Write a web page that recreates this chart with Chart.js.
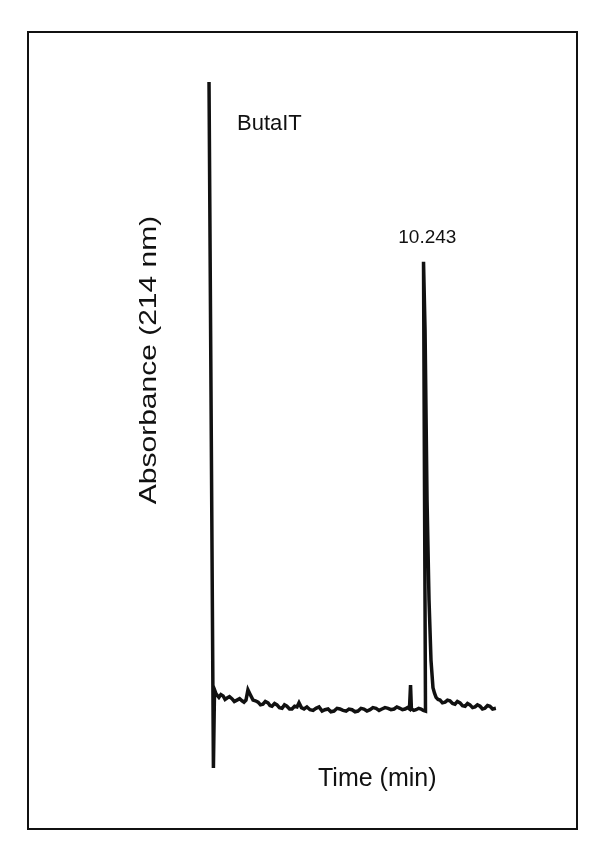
<!DOCTYPE html>
<html>
<head>
<meta charset="utf-8">
<script src="https://cdn.jsdelivr.net/npm/chart.js@4/dist/chart.umd.min.js"></script>
<style>
  html, body { margin: 0; padding: 0; background: #fff; }
  canvas { display: block; }
</style>
</head>
<body>
<canvas id="chromChart" width="600" height="862"></canvas>
<script>
// retention time (min) and detector response (arbitrary units, 0-100)
const times = [0.41, 0.61, 0.66, 0.73, 0.86, 0.95, 1.05, 1.14, 1.23, 1.34, 1.45, 1.56, 1.68, 1.80, 1.91,
    2.00, 2.09, 2.18, 2.27, 2.41, 2.52, 2.64, 2.75, 2.86, 2.97, 3.09, 3.18, 3.27, 3.39, 3.50, 3.61, 3.73,
    3.84, 3.95, 4.07, 4.18, 4.30, 4.41, 4.50, 4.61, 4.73, 4.86, 5.00, 5.14, 5.27, 5.41, 5.55, 5.68, 5.82, 5.95, 6.09,
    6.23, 6.36, 6.50, 6.64, 6.77, 6.91, 7.05, 7.18, 7.32, 7.45, 7.59, 7.73, 7.86, 8.00, 8.14, 8.27, 8.41, 8.55, 8.68, 8.82,
    8.95, 9.09, 9.20, 9.32, 9.43, 9.52, 9.57, 9.61, 9.72, 9.82, 9.94, 10.05, 10.15, 10.25, 10.16, 10.23,
    10.32, 10.41, 10.50, 10.59, 10.66, 10.73, 10.82, 10.91, 11.02, 11.14, 11.25, 11.36, 11.48, 11.59, 11.70, 11.82,
    11.93, 12.05, 12.16, 12.27, 12.39, 12.50, 12.61, 12.73, 12.84, 12.95, 13.07, 13.18, 13.30, 13.45];
const absorbance = [100, 0, 11.4, 10.8, 10.3, 10.7, 10.5, 10.0, 10.2, 10.4, 10.1, 9.7, 9.9, 10.1, 9.8,
    9.6, 9.9, 11.4, 10.8, 9.9, 9.8, 9.6, 9.2, 9.3, 9.7, 9.5, 9.1, 9.0, 9.4, 9.2, 8.8, 8.7,
    9.2, 9.0, 8.6, 8.6, 9.0, 8.9, 9.5, 8.8, 8.6, 8.9, 8.5, 8.4, 8.7, 8.9, 8.3, 8.5, 8.6, 8.2, 8.3,
    8.7, 8.6, 8.4, 8.3, 8.6, 8.5, 8.2, 8.3, 8.7, 8.6, 8.3, 8.5, 8.8, 8.7, 8.4, 8.6, 8.8, 8.7, 8.5, 8.6,
    8.9, 8.7, 8.5, 8.6, 8.8, 8.6, 12.1, 8.6, 8.4, 8.5, 8.7, 8.6, 8.4, 8.3, 73.8, 63.8,
    39.1, 24.5, 15.7, 11.7, 10.9, 10.3, 10.0, 9.9, 9.5, 9.6, 9.9, 9.8, 9.4, 9.3, 9.7, 9.5,
    9.1, 9.0, 9.4, 9.2, 8.8, 8.9, 9.2, 9.0, 8.6, 8.7, 9.1, 9.0, 8.6, 8.7];

const peakLabel = '10.243';
const peakTime = 10.243;
const sampleLabel = 'ButaIT';
const yTitle = 'Absorbance (214 nm)';
const xTitle = 'Time (min)';

const points = times.map((t, i) => ({ x: t, y: absorbance[i] }));

// frame + text annotations
const annotate = {
    id: 'annotate',
    afterDraw(chart) {
        const ctx = chart.ctx;
        const xs = chart.scales.x;
        ctx.save();
        ctx.strokeStyle = '#111';
        ctx.lineWidth = 2;
        ctx.strokeRect(28, 32, 549, 797);

        ctx.fillStyle = '#111';
        ctx.textBaseline = 'alphabetic';
        ctx.textAlign = 'left';
        ctx.font = "22px 'Liberation Sans', Arial, sans-serif";
        ctx.fillText(sampleLabel, 237, 130);

        ctx.font = "19px 'Liberation Sans', Arial, sans-serif";
        ctx.textAlign = 'center';
        ctx.fillText(peakLabel, xs.getPixelForValue(peakTime) + 2, 243);

        ctx.font = "25px 'Liberation Sans', Arial, sans-serif";
        ctx.textAlign = 'left';
        ctx.fillText(xTitle, 318, 786);

        ctx.translate(156, 360);
        ctx.rotate(-Math.PI / 2);
        ctx.scale(1.25, 1);
        ctx.font = "24px 'Liberation Sans', Arial, sans-serif";
        ctx.textAlign = 'center';
        ctx.fillText(yTitle, 0, 0);
        ctx.restore();
    }
};

new Chart(document.getElementById('chromChart'), {
    type: 'scatter',
    data: {
        datasets: [{
            data: points,
            showLine: true,
            borderColor: '#111',
            borderWidth: 3.5,
            pointRadius: 0,
            tension: 0
        }]
    },
    options: {
        responsive: false,
        animation: false,
        layout: { padding: { left: 200, right: 92, top: 82, bottom: 94 } },
        scales: {
            x: { type: 'linear', min: 0, max: 14, display: false },
            y: { min: 0, max: 100, display: false }
        },
        plugins: {
            legend: { display: false },
            tooltip: { enabled: false }
        }
    },
    plugins: [annotate]
});
</script>
</body>
</html>
